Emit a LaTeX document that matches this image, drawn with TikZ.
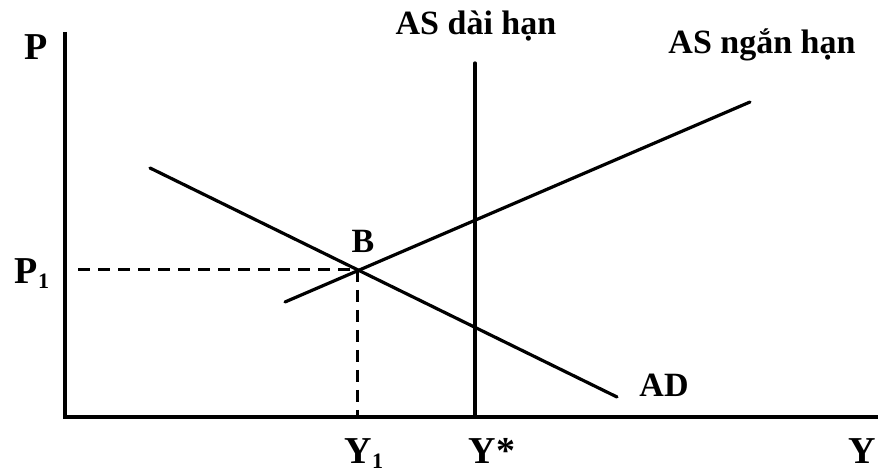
\documentclass[tikz,border=0pt]{standalone}
\usepackage{fontspec}
\setmainfont{Liberation Serif}
\newcommand{\smallsub}[1]{\raisebox{-2.5pt}{\fontsize{11}{12}\selectfont #1}}
\begin{document}
\begin{tikzpicture}[x=0.5pt,y=-0.5pt,
  axis/.style={line width=2pt},
  curve/.style={line width=1.6pt,line cap=round},
  guide/.style={line width=1.5pt,dash pattern=on 6pt off 4pt},
  lbl/.style={font=\bfseries\fontsize{17}{19}\selectfont,inner sep=0pt,anchor=base},
  biglbl/.style={font=\bfseries\fontsize{19}{21}\selectfont,inner sep=0pt,anchor=base}]
\useasboundingbox (0,0) rectangle (878,474);
% coordinates
\coordinate (O) at (65,417);
\coordinate (ytop) at (65,32);
\coordinate (xend) at (878,417);
\coordinate (B) at (357,270);
\coordinate (p1start) at (78,270);
\coordinate (y1foot) at (357,417);
\coordinate (lrasTop) at (475,63);
\coordinate (lrasBot) at (475,417);
\coordinate (srasA) at (285,302);
\coordinate (srasB) at (750,102);
\coordinate (adA) at (150,168);
\coordinate (adB) at (617,397);
% axes
\draw[axis] (ytop) -- (O) -- (xend);
% guides
\draw[guide] (p1start) -- (B);
\draw[guide] (B) -- (y1foot);
% curves
\draw[curve] (lrasTop) -- (lrasBot);
\draw[curve] (srasA) -- (srasB);
\draw[curve] (adA) -- (adB);
% labels
\node[biglbl] (P) at (36,60) {P};
\node[biglbl] (P1) at (32,284) {P\smallsub{1}};
\node[lbl] (Blbl) at (363,253) {B};
\node[biglbl] (Y1) at (364,464) {Y\smallsub{1}};
\node[biglbl] (Ystar) at (492,464) {Y*};
\node[biglbl] (Y) at (862,464) {Y};
\node[lbl] (lras) at (476,35) {AS dài hạn};
\node[lbl] (sras) at (762,54) {AS ngắn hạn};
\node[lbl] (AD) at (664,397) {AD};
\end{tikzpicture}
\end{document}
